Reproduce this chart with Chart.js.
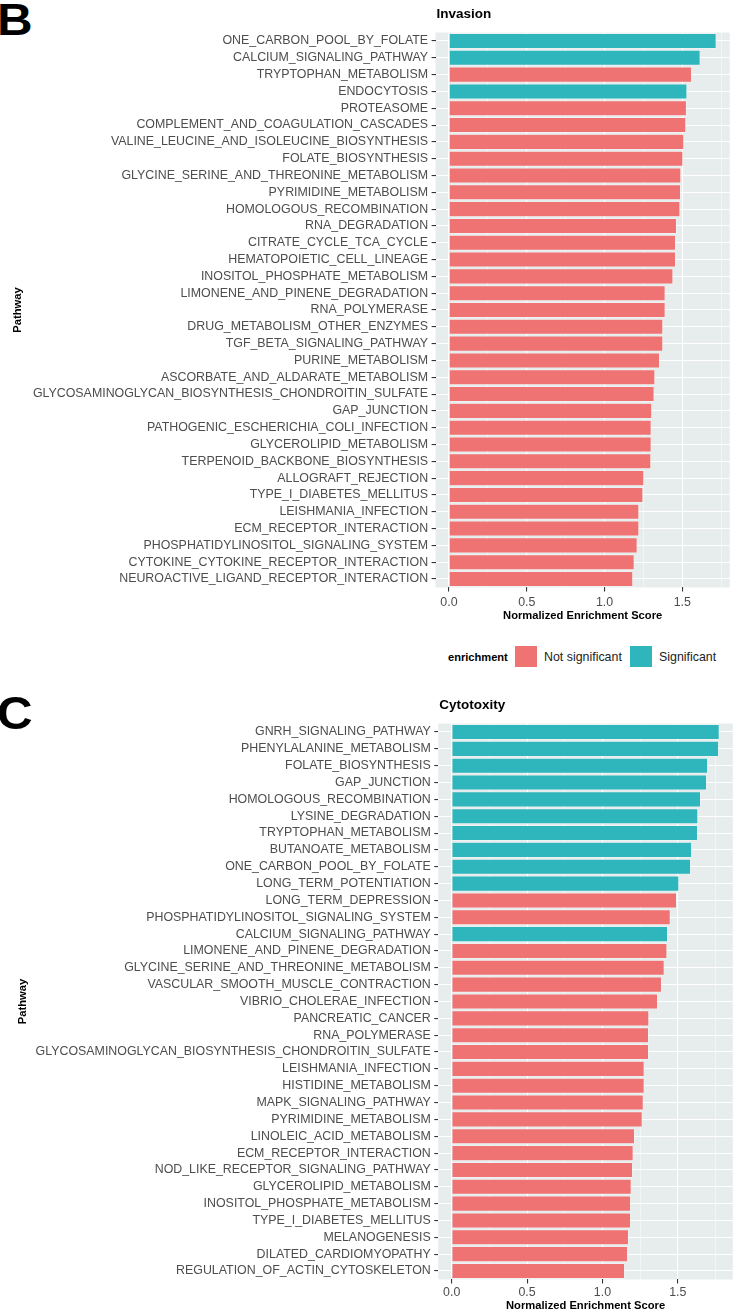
<!DOCTYPE html>
<html>
<head>
<meta charset="utf-8">
<script src="https://cdn.jsdelivr.net/npm/chart.js@4.4.0/dist/chart.umd.min.js"></script>
<style>
    body { margin: 0; background: #fff; font-family: "Liberation Sans", Arial, sans-serif; }
    #page { position: relative; width: 733px; height: 1313px; overflow: hidden; }
    canvas { position: absolute; left: 0; }
    .panel-letter { position: absolute; left: -3px; font-weight: bold; line-height: 1; color: #000; transform-origin: left top; }
    .legend-text { position: absolute; line-height: 1; white-space: nowrap; }
    .legend-key { position: absolute; width: 22px; height: 21px; }
</style>
</head>
<body>
<div id="page">
    <div class="panel-letter" style="top:-2px; font-size:44px; transform:scaleX(1.12);">B</div>
    <canvas id="invasionChart" width="733" height="623" style="top:0;"></canvas>

    <!-- shared legend -->
    <div class="legend-text" style="left:448px; top:652px; font-size:11.1px; font-weight:bold; color:#000;">enrichment</div>
    <div class="legend-key" style="left:515px; top:646px; background:#EF7373;"></div>
    <div class="legend-text" style="left:544px; top:651px; font-size:12.4px; color:#222;">Not significant</div>
    <div class="legend-key" style="left:630px; top:646px; background:#2FB5BC;"></div>
    <div class="legend-text" style="left:659px; top:651px; font-size:12.4px; color:#222;">Significant</div>

    <div class="panel-letter" style="top:689px; font-size:47px; transform:scaleX(1.05);">C</div>
    <canvas id="cytotoxChart" width="733" height="623" style="top:690px;"></canvas>
</div>

<script>
    // Invasion panel data (top to bottom)
    const invasionPathways = [
        'ONE_CARBON_POOL_BY_FOLATE', 'CALCIUM_SIGNALING_PATHWAY', 'TRYPTOPHAN_METABOLISM',
        'ENDOCYTOSIS', 'PROTEASOME', 'COMPLEMENT_AND_COAGULATION_CASCADES',
        'VALINE_LEUCINE_AND_ISOLEUCINE_BIOSYNTHESIS', 'FOLATE_BIOSYNTHESIS',
        'GLYCINE_SERINE_AND_THREONINE_METABOLISM', 'PYRIMIDINE_METABOLISM',
        'HOMOLOGOUS_RECOMBINATION', 'RNA_DEGRADATION', 'CITRATE_CYCLE_TCA_CYCLE',
        'HEMATOPOIETIC_CELL_LINEAGE', 'INOSITOL_PHOSPHATE_METABOLISM',
        'LIMONENE_AND_PINENE_DEGRADATION', 'RNA_POLYMERASE', 'DRUG_METABOLISM_OTHER_ENZYMES',
        'TGF_BETA_SIGNALING_PATHWAY', 'PURINE_METABOLISM', 'ASCORBATE_AND_ALDARATE_METABOLISM',
        'GLYCOSAMINOGLYCAN_BIOSYNTHESIS_CHONDROITIN_SULFATE', 'GAP_JUNCTION',
        'PATHOGENIC_ESCHERICHIA_COLI_INFECTION', 'GLYCEROLIPID_METABOLISM',
        'TERPENOID_BACKBONE_BIOSYNTHESIS', 'ALLOGRAFT_REJECTION', 'TYPE_I_DIABETES_MELLITUS',
        'LEISHMANIA_INFECTION', 'ECM_RECEPTOR_INTERACTION', 'PHOSPHATIDYLINOSITOL_SIGNALING_SYSTEM',
        'CYTOKINE_CYTOKINE_RECEPTOR_INTERACTION', 'NEUROACTIVE_LIGAND_RECEPTOR_INTERACTION'
    ];
    const invasionNES = [
        1.719, 1.616, 1.561, 1.531, 1.528, 1.524, 1.511, 1.505, 1.492, 1.490, 1.486,
        1.464, 1.458, 1.458, 1.441, 1.391, 1.391, 1.376, 1.376, 1.355, 1.325, 1.320,
        1.305, 1.301, 1.301, 1.299, 1.254, 1.248, 1.222, 1.222, 1.211, 1.192, 1.183
    ];
    const invasionSignificant = [
        'ONE_CARBON_POOL_BY_FOLATE', 'CALCIUM_SIGNALING_PATHWAY', 'ENDOCYTOSIS'
    ];

    // Cytotoxity panel data (top to bottom)
    const cytotoxPathways = [
        'GNRH_SIGNALING_PATHWAY', 'PHENYLALANINE_METABOLISM', 'FOLATE_BIOSYNTHESIS',
        'GAP_JUNCTION', 'HOMOLOGOUS_RECOMBINATION', 'LYSINE_DEGRADATION',
        'TRYPTOPHAN_METABOLISM', 'BUTANOATE_METABOLISM', 'ONE_CARBON_POOL_BY_FOLATE',
        'LONG_TERM_POTENTIATION', 'LONG_TERM_DEPRESSION', 'PHOSPHATIDYLINOSITOL_SIGNALING_SYSTEM',
        'CALCIUM_SIGNALING_PATHWAY', 'LIMONENE_AND_PINENE_DEGRADATION',
        'GLYCINE_SERINE_AND_THREONINE_METABOLISM', 'VASCULAR_SMOOTH_MUSCLE_CONTRACTION',
        'VIBRIO_CHOLERAE_INFECTION', 'PANCREATIC_CANCER', 'RNA_POLYMERASE',
        'GLYCOSAMINOGLYCAN_BIOSYNTHESIS_CHONDROITIN_SULFATE', 'LEISHMANIA_INFECTION',
        'HISTIDINE_METABOLISM', 'MAPK_SIGNALING_PATHWAY', 'PYRIMIDINE_METABOLISM',
        'LINOLEIC_ACID_METABOLISM', 'ECM_RECEPTOR_INTERACTION', 'NOD_LIKE_RECEPTOR_SIGNALING_PATHWAY',
        'GLYCEROLIPID_METABOLISM', 'INOSITOL_PHOSPHATE_METABOLISM', 'TYPE_I_DIABETES_MELLITUS',
        'MELANOGENESIS', 'DILATED_CARDIOMYOPATHY', 'REGULATION_OF_ACTIN_CYTOSKELETON'
    ];
    const cytotoxNES = [
        1.776, 1.772, 1.699, 1.692, 1.652, 1.634, 1.632, 1.593, 1.586, 1.508, 1.493,
        1.451, 1.433, 1.429, 1.411, 1.393, 1.367, 1.309, 1.307, 1.307, 1.278, 1.278,
        1.272, 1.265, 1.214, 1.205, 1.201, 1.192, 1.188, 1.188, 1.174, 1.168, 1.148
    ];
    const cytotoxSignificant = [
        'GNRH_SIGNALING_PATHWAY', 'PHENYLALANINE_METABOLISM', 'FOLATE_BIOSYNTHESIS',
        'GAP_JUNCTION', 'HOMOLOGOUS_RECOMBINATION', 'LYSINE_DEGRADATION',
        'TRYPTOPHAN_METABOLISM', 'BUTANOATE_METABOLISM', 'ONE_CARBON_POOL_BY_FOLATE',
        'LONG_TERM_POTENTIATION', 'CALCIUM_SIGNALING_PATHWAY'
    ];

    const xTicks = [0, 0.25, 0.5, 0.75, 1.0, 1.25, 1.5, 1.75];

    // Colours (ggplot defaults as they come out in the figure)
    const colors = {
        notSignificant: '#EF7373',
        significant: '#2FB5BC',
        panel: '#E7ECEC',
        grid: '#FFFFFF',
        tickText: '#4D4D4D',
        tickMark: '#333333'
    };
    const fontFamily = '"Liberation Sans", Arial, sans-serif';

    // Grey panel behind grid + panel title at the panel's left edge
    const panelPlugin = {
        id: 'panel',
        beforeDraw(chart, args, opts) {
            const a = chart.chartArea;
            const ctx = chart.ctx;
            ctx.save();
            ctx.fillStyle = colors.panel;
            ctx.fillRect(a.left, a.top, a.right - a.left, a.bottom - a.top);
            ctx.fillStyle = '#000';
            ctx.font = 'bold 13.5px ' + fontFamily;
            ctx.textAlign = 'left';
            ctx.textBaseline = 'middle';
            ctx.fillText(opts.title, a.left + 1, opts.titleY);
            ctx.restore();
        }
    };

    function isMajor(v) {
        return Math.abs(v * 2 - Math.round(v * 2)) < 1e-9;
    }

    function makeChart(canvasId, labels, values, significant, cfg) {
        const ctx = document.getElementById(canvasId).getContext('2d');
        return new Chart(ctx, {
            type: 'bar',
            data: {
                labels: labels,
                datasets: [{
                    data: values,
                    backgroundColor: labels.map(l => significant.includes(l) ? colors.significant : colors.notSignificant),
                    borderColor: 'rgba(255,255,255,0.55)',
                    borderWidth: 0.7,
                    categoryPercentage: 0.92,
                    barPercentage: 1.0
                }]
            },
            options: {
                indexAxis: 'y',
                responsive: false,
                animation: false,
                devicePixelRatio: 1,
                layout: { padding: { top: cfg.top, right: cfg.right, left: 0, bottom: 0 } },
                plugins: {
                    legend: { display: false },
                    tooltip: { enabled: false },
                    panel: { title: cfg.title, titleY: cfg.titleY }
                },
                scales: {
                    x: {
                        type: 'linear',
                        min: cfg.xMin,
                        max: cfg.xMax,
                        afterBuildTicks(scale) {
                            scale.ticks = xTicks.map(v => ({ value: v }));
                        },
                        afterFit(scale) { scale.height = cfg.xAxisHeight; },
                        border: { display: false },
                        grid: {
                            color: colors.grid,
                            lineWidth: c => isMajor(c.tick.value) ? 1.1 : 0.5,
                            tickColor: c => isMajor(c.tick.value) ? colors.tickMark : 'rgba(0,0,0,0)',
                            tickWidth: 1.1,
                            tickLength: 4
                        },
                        ticks: {
                            autoSkip: false,
                            maxRotation: 0,
                            padding: cfg.xTickPad,
                            color: colors.tickText,
                            font: { family: fontFamily, size: 12.4 },
                            callback: v => isMajor(v) ? v.toFixed(1) : ''
                        },
                        title: {
                            display: true,
                            text: 'Normalized Enrichment Score',
                            color: '#000',
                            padding: 0,
                            font: { family: fontFamily, size: 11.2, weight: 'bold' }
                        }
                    },
                    y: {
                        afterFit(scale) { scale.width = cfg.yAxisWidth; },
                        border: { display: false },
                        grid: {
                            offset: false,
                            color: colors.grid,
                            lineWidth: 1.1,
                            tickColor: colors.tickMark,
                            tickWidth: 1.1,
                            tickLength: 4
                        },
                        ticks: {
                            autoSkip: false,
                            padding: 3.5,
                            color: colors.tickText,
                            font: { family: fontFamily, size: 12.4 }
                        },
                        title: {
                            display: true,
                            text: 'Pathway',
                            color: '#000',
                            padding: { top: cfg.yTitlePad, bottom: 0 },
                            font: { family: fontFamily, size: 11.2, weight: 'bold' }
                        }
                    }
                }
            },
            plugins: [panelPlugin]
        });
    }

    makeChart('invasionChart', invasionPathways, invasionNES, invasionSignificant, {
        title: 'Invasion', titleY: 14,
        top: 32.6, right: 3.3,
        xMin: -0.086, xMax: 1.805,
        yAxisWidth: 435.6, xAxisHeight: 35.6,
        xTickPad: 3.5, yTitlePad: 11.3
    });

    makeChart('cytotoxChart', cytotoxPathways, cytotoxNES, cytotoxSignificant, {
        title: 'Cytotoxity', titleY: 15,
        top: 33.6, right: 0.2,
        xMin: -0.089, xMax: 1.865,
        yAxisWidth: 438.3, xAxisHeight: 33.6,
        xTickPad: 1.5, yTitlePad: 16.3
    });
</script>
</body>
</html>
